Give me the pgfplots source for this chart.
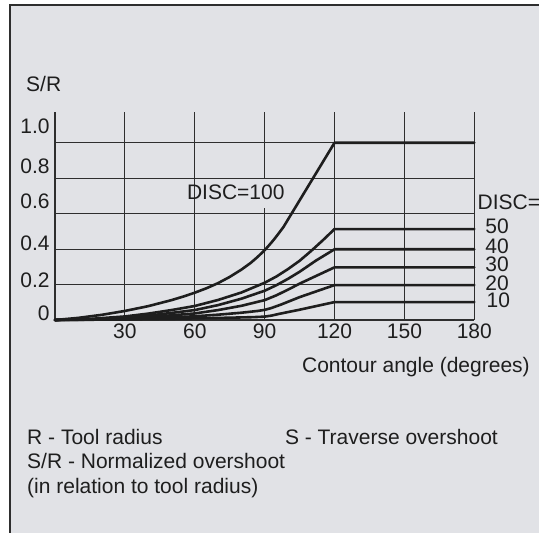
\documentclass[border=0pt]{standalone}
\usepackage{pgfplots}
\pgfplotsset{compat=1.18}
\usepackage{fontspec}
\setmainfont{Liberation Sans}
\definecolor{bg}{HTML}{E1E2E6}
\definecolor{ink}{HTML}{1E1E1E}
\definecolor{gridc}{HTML}{2E2E2E}
\begin{document}
\fontsize{10.5}{12.6}\selectfont
\begin{tikzpicture}
\useasboundingbox (-27.5pt,-106.5pt) rectangle (242pt,160pt);
\fill[bg] (-22.5pt,-120pt) rectangle (260pt,157.5pt);
\draw[line width=0.8pt, color=gridc] (-22.5pt,-120pt) -- (-22.5pt,157.5pt) -- (260pt,157.5pt);
\begin{axis}[
  at={(0pt,0pt)}, anchor=south west,
  scale only axis, width=209.65pt, height=104.15pt,
  xmin=0, xmax=180, ymin=0, ymax=1.175,
  clip=false,
  axis line style={draw=none},
  major tick length=0pt,
  grid=major,
  major grid style={line width=0.55pt, color=gridc},
  xtick={0,30,60,90,120,150,180},
  xticklabels={,30,60,90,120,150,180},
  ytick={0,0.2,0.4,0.6,0.8,1.0},
  yticklabels={{0\hspace{4pt}},0.2,0.4,0.6,0.8,1.0},
  xticklabel style={anchor=center, inner sep=0pt, yshift=-5.5pt, text=ink},
  yticklabel style={anchor=east, inner sep=0pt, xshift=-2.5pt, yshift={{3.35,2.15,3,6.15,5.8,8}[\ticknum]*1pt}, text=ink},
  curve/.style={ink, solid, line width=1.3pt, line join=round, line cap=round, mark=none},
]
% DISC=100
\addplot[curve] coordinates {(0,0)(10,0.012)(20,0.029)(30,0.051)(40,0.078)(50,0.112)(55,0.132)(60,0.154)(65,0.179)(70,0.208)(75,0.243)(80,0.284)(84,0.322)(87,0.356)(90,0.394)(92,0.423)(94,0.454)(96,0.488)(98,0.523)(120,1.0)(180,1.0)};
% DISC=50
\addplot[curve] coordinates {(0,0)(15,0.006)(30,0.02)(40,0.036)(50,0.056)(60,0.079)(70,0.113)(80,0.155)(90,0.21)(95,0.245)(100,0.287)(105,0.334)(110,0.39)(115,0.45)(120,0.513)(180,0.513)};
% DISC=40
\addplot[curve] coordinates {(0,0)(15,0.004)(30,0.014)(45,0.032)(60,0.056)(70,0.084)(80,0.12)(90,0.165)(95,0.196)(100,0.232)(105,0.272)(112,0.335)(120,0.399)(180,0.399)};
% DISC=30
\addplot[curve] coordinates {(0,0)(15,0.002)(30,0.009)(45,0.021)(60,0.037)(70,0.056)(80,0.08)(90,0.112)(95,0.139)(100,0.171)(105,0.205)(120,0.297)(180,0.297)};
% DISC=20
\addplot[curve] coordinates {(0,0)(30,0.005)(45,0.011)(60,0.021)(70,0.03)(80,0.041)(87,0.051)(90,0.057)(93,0.068)(97,0.087)(105,0.129)(120,0.197)(180,0.197)};
% DISC=10
\addplot[curve] coordinates {(0,0)(30,0.003)(60,0.009)(75,0.013)(85,0.016)(90,0.019)(93,0.025)(96,0.034)(105,0.058)(120,0.101)(180,0.101)};
\fill[bg] (axis cs:89,0.63) rectangle (axis cs:91,0.795);
\node[text=ink, inner sep=0pt] at (axis cs:77.6,0.718) {DISC=100};
\node[text=ink, inner sep=0pt, anchor=west] at (axis cs:181.3,0.662) {DISC=};
\node[text=ink, inner sep=0pt, anchor=west] at (axis cs:184.6,0.528) {50};
\node[text=ink, inner sep=0pt, anchor=west] at (axis cs:184.6,0.418) {40};
\node[text=ink, inner sep=0pt, anchor=west] at (axis cs:184.6,0.317) {30};
\node[text=ink, inner sep=0pt, anchor=west] at (axis cs:184.6,0.209) {20};
\node[text=ink, inner sep=0pt, anchor=west] at (axis cs:185.1,0.111) {10};
\end{axis}
\node[text=ink, inner sep=0pt, anchor=west] at (-14.6pt,117.9pt) {S/R};
\node[text=ink, inner sep=0pt, anchor=west] at (123.35pt,-23.35pt) {Contour angle (degrees)};
\node[text=ink, inner sep=0pt, anchor=base west] at (-14.1pt,-62.25pt) {R - Tool radius};
\node[text=ink, inner sep=0pt, anchor=base west] at (114.8pt,-62.25pt) {S - Traverse overshoot};
\node[text=ink, inner sep=0pt, anchor=base west] at (-14.1pt,-74.5pt) {S/R - Normalized overshoot};
\node[text=ink, inner sep=0pt, anchor=base west] at (-14.1pt,-86.75pt) {(in relation to tool radius)};
\end{tikzpicture}
\end{document}
